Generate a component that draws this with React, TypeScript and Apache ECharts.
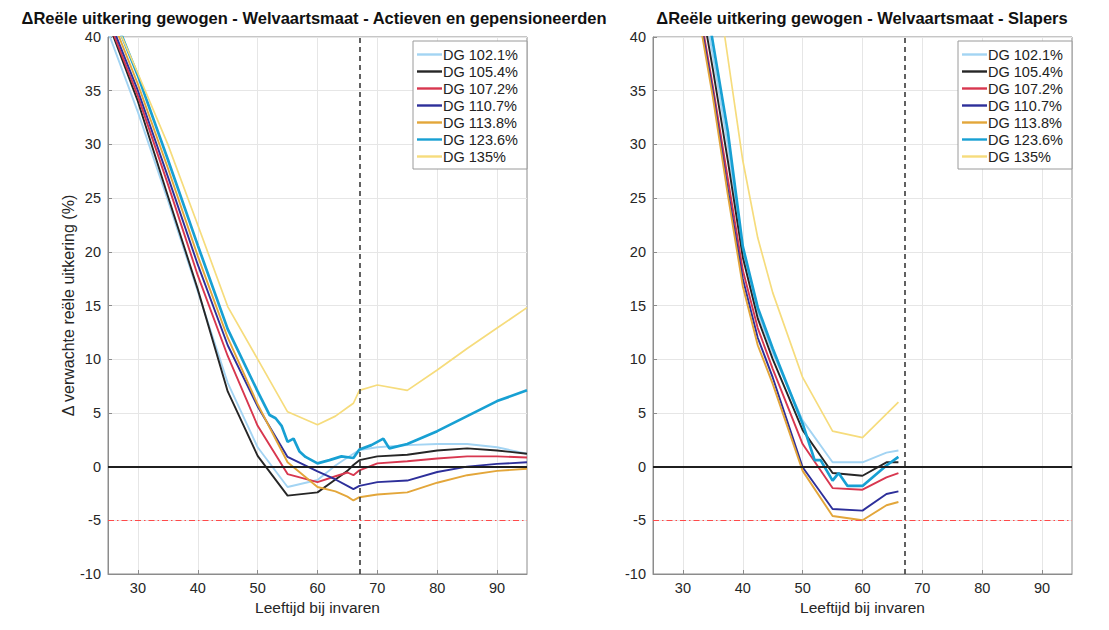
import React, { useEffect, useRef } from "react";
import * as echarts from "echarts";

const NAMES = ["DG 102.1%", "DG 105.4%", "DG 107.2%", "DG 110.7%", "DG 113.8%", "DG 123.6%", "DG 135%"];
const X_TICKS = [30, 40, 50, 60, 70, 80, 90];
const TITLE_L = "ΔReële uitkering gewogen - Welvaartsmaat - Actieven en gepensioneerden";
const TITLE_R = "ΔReële uitkering gewogen - Welvaartsmaat - Slapers";
const Y_NAME = "Δ verwachte reële uitkering (%)";
const X_NAME = "Leeftijd bij invaren";

// Left panel: Actieven en gepensioneerden
const AGES_L = [25, 30, 35, 40, 45, 50, 55, 60, 63, 65, 66, 67, 70, 75, 80, 85, 90, 95];
const L_1021 = [40.5, 33.0, 24.8, 16.3, 7.8, 1.8, -1.9, -1.25, 0.1, 0.85, 1.2, 1.55, 1.8, 2.0, 2.1, 2.1, 1.8, 1.2];
const L_1054 = [41.4, 34.0, 25.2, 16.5, 7.0, 1.0, -2.7, -2.4, -1.2, -0.4, 0.15, 0.6, 0.95, 1.1, 1.5, 1.7, 1.5, 1.2];
const L_1072 = [41.6, 34.5, 26.3, 17.8, 10.3, 3.8, -0.7, -1.45, -0.9, -0.55, -0.8, -0.35, 0.3, 0.5, 0.75, 0.95, 0.95, 0.85];
const L_1107 = [42.0, 35.0, 27.0, 18.8, 11.3, 5.6, 0.9, -0.45, -1.2, -1.8, -2.1, -1.8, -1.45, -1.3, -0.5, 0.0, 0.25, 0.4];
const L_1138 = [42.6, 35.6, 27.8, 19.6, 12.0, 5.8, 0.4, -1.9, -2.3, -2.8, -3.15, -2.85, -2.6, -2.4, -1.5, -0.8, -0.4, -0.2];
const L_135 = [43.0, 36.6, 30.0, 22.5, 14.9, 10.0, 5.1, 3.9, 4.7, 5.5, 5.9, 7.1, 7.6, 7.1, 9.0, 11.0, 12.9, 14.8];
const AGES_L_1236 = [25, 30, 35, 40, 45, 50, 52, 53, 54, 55, 56, 57, 58, 60, 62, 64, 66, 67, 69, 71, 72, 75, 80, 85, 90, 95];
const L_1236 = [43.3, 36.4, 28.6, 20.6, 12.8, 7.0, 4.8, 4.5, 3.8, 2.3, 2.6, 1.4, 0.9, 0.3, 0.6, 0.95, 0.8, 1.6, 2.0, 2.6, 1.7, 2.1, 3.3, 4.7, 6.1, 7.1];

// Right panel: Slapers
const AGES_R = [30, 35, 37.5, 40, 42.5, 45, 50, 55, 60, 64, 66];
const R_1021 = [54, 38.3, 29.9, 20.0, 14.3, 10.6, 4.3, 0.4, 0.4, 1.3, 1.5];
const R_1054 = [53, 37.0, 28.5, 19.5, 13.8, 10.0, 3.4, -0.6, -0.85, 0.4, 0.4];
const R_1072 = [51.5, 35.4, 26.8, 18.3, 12.9, 9.1, 2.1, -2.0, -2.15, -1.0, -0.6];
const R_1107 = [51, 34.9, 25.8, 17.5, 12.0, 8.3, -0.06, -3.95, -4.1, -2.55, -2.3];
const R_1138 = [50.5, 34.4, 25.3, 16.8, 11.3, 7.7, -0.4, -4.6, -5.0, -3.6, -3.3];
const AGES_R_1236 = [30, 35, 37.5, 40, 42.5, 45, 50, 52, 53, 55, 56, 57.5, 60, 64, 66];
const R_1236 = [56, 39.5, 31.2, 20.5, 14.8, 11.0, 4.0, 0.6, 0.6, -1.3, -0.6, -1.8, -1.8, 0.1, 0.9];
const AGES_R_135 = [30, 35, 37, 40, 42.5, 45, 50, 55, 60, 66];
const R_135 = [62, 46, 40.0, 28.5, 21.3, 16.2, 8.3, 3.3, 2.7, 6.0];

const REF_ZERO = 0;
const REF_FLOOR = -5;
const REF_AGE = 67;

const COLORS = ["#a3d4f3", "#262626", "#d8374f", "#2d2f9a", "#e3a63a", "#17a0d3", "#f6dc7c"];
const WIDTHS = [1.9, 1.9, 1.9, 1.9, 1.9, 2.7, 1.7];

const FONT = "'Liberation Sans', Arial, Helvetica, sans-serif";

function pairs(ages: number[], vals: number[]) {
  return ages.map((a, i) => [a, vals[i]]);
}

export default function App() {
  const ref = useRef<HTMLDivElement>(null);
  useEffect(() => {
    if (!ref.current) return;
    const chart = echarts.init(ref.current, undefined, { renderer: "svg" });

    const leftData = [
      pairs(AGES_L, L_1021),
      pairs(AGES_L, L_1054),
      pairs(AGES_L, L_1072),
      pairs(AGES_L, L_1107),
      pairs(AGES_L, L_1138),
      pairs(AGES_L_1236, L_1236),
      pairs(AGES_L, L_135),
    ];
    const rightData = [
      pairs(AGES_R, R_1021),
      pairs(AGES_R, R_1054),
      pairs(AGES_R, R_1072),
      pairs(AGES_R, R_1107),
      pairs(AGES_R, R_1138),
      pairs(AGES_R_1236, R_1236),
      pairs(AGES_R_135, R_135),
    ];

    const gridBox = { top: 37, width: 419, height: 537, show: true, borderColor: "#8c8c8c", borderWidth: 1, backgroundColor: "#fff" };

    const xAxisBase = (gi: number) => ({
      gridIndex: gi,
      type: "value",
      min: 25,
      max: 95,
      name: X_NAME,
      nameLocation: "middle",
      nameGap: 24,
      nameTextStyle: { fontSize: 15.5, color: "#262626", fontFamily: FONT },
      axisLine: { show: true, onZero: false, lineStyle: { color: "#8c8c8c" } },
      axisTick: { show: true, inside: true, length: 4, customValues: X_TICKS, lineStyle: { color: "#8c8c8c" } },
      axisLabel: { customValues: X_TICKS, fontSize: 14.5, color: "#262626", margin: 6, fontFamily: FONT },
      splitLine: { show: true, lineStyle: { color: "#e6e6e6", width: 1 } },
    });
    const yAxisBase = (gi: number) => ({
      gridIndex: gi,
      type: "value",
      min: -10,
      max: 40,
      interval: 5,
      axisLine: { show: true, lineStyle: { color: "#8c8c8c" } },
      axisTick: { show: true, inside: true, length: 4, lineStyle: { color: "#8c8c8c" } },
      axisLabel: { fontSize: 14.5, color: "#262626", margin: 7, fontFamily: FONT },
      splitLine: { show: true, lineStyle: { color: "#e6e6e6", width: 1 } },
    });

    const makeSeries = (gi: number, data: number[][][]) =>
      data.map((d, i) => ({
        name: NAMES[i],
        type: "line",
        xAxisIndex: gi,
        yAxisIndex: gi,
        data: d,
        showSymbol: false,
        symbol: "none",
        clip: true,
        color: COLORS[i],
        lineStyle: { color: COLORS[i], width: WIDTHS[i] },
        z: 3,
      }));

    const refSeries = (gi: number) => ({
      type: "line",
      xAxisIndex: gi,
      yAxisIndex: gi,
      data: [],
      silent: true,
      z: 4,
      markLine: {
        symbol: "none",
        silent: true,
        animation: false,
        label: { show: false },
        data: [
          { yAxis: REF_ZERO, lineStyle: { color: "#1f1f1f", width: 1.9, type: "solid" } },
          { yAxis: REF_FLOOR, lineStyle: { color: "#ff4a4a", width: 1.2, type: [6, 3, 1.5, 3] } },
          { xAxis: REF_AGE, lineStyle: { color: "#3a3a3a", width: 1.6, type: [5, 4] } },
        ],
      },
    });

    const legendBase = (left: number) => ({
      data: NAMES.map((n) => ({ name: n, icon: "rect" })),
      orient: "vertical",
      left,
      top: 41,
      itemWidth: 25,
      itemHeight: 2.4,
      itemGap: 2,
      padding: [6, 9, 5, 4],
      borderColor: "#9a9a9a",
      borderWidth: 1,
      backgroundColor: "#fff",
      selectedMode: false,
      textStyle: { fontSize: 14.5, color: "#222", fontFamily: FONT, padding: [0, 0, 0, -4] },
    });

    const option = {
      animation: false,
      backgroundColor: "#ffffff",
      textStyle: { fontFamily: FONT },
      grid: [
        { ...gridBox, left: 108 },
        { ...gridBox, left: 653 },
      ],
      xAxis: [xAxisBase(0), xAxisBase(1)],
      yAxis: [
        {
          ...yAxisBase(0),
          name: Y_NAME,
          nameLocation: "middle",
          nameGap: 31,
          nameRotate: 90,
          nameTextStyle: { fontSize: 16, color: "#262626", fontFamily: FONT },
        },
        yAxisBase(1),
      ],
      legend: [legendBase(413), legendBase(958)],
      graphic: [
        {
          type: "text",
          x: 314,
          y: 9,
          style: { text: TITLE_L, align: "center", verticalAlign: "top", fontSize: 16.5, fontWeight: "bold", fontFamily: FONT, fill: "#111" },
        },
        {
          type: "text",
          x: 862,
          y: 9,
          style: { text: TITLE_R, align: "center", verticalAlign: "top", fontSize: 16.5, fontWeight: "bold", fontFamily: FONT, fill: "#111" },
        },
      ],
      series: [...makeSeries(0, leftData), refSeries(0), ...makeSeries(1, rightData), refSeries(1)],
    };

    chart.setOption(option as any);
    return () => chart.dispose();
  }, []);

  return (
    <div
      ref={ref}
      style={{ position: "absolute", left: 0, top: 0, width: 1109, height: 630, background: "#fff" }}
    />
  );
}
